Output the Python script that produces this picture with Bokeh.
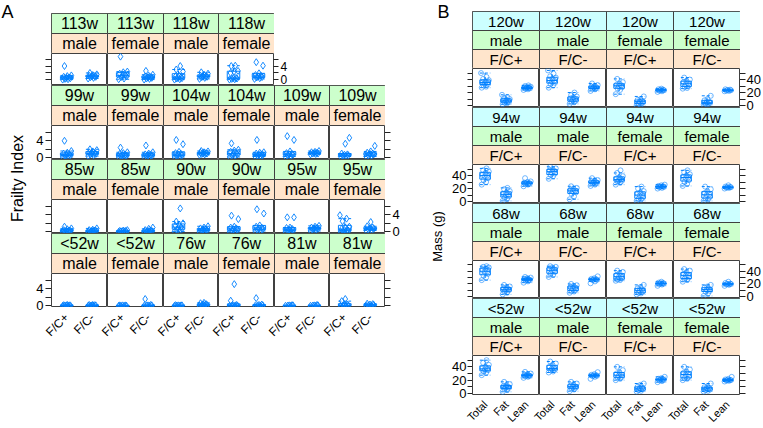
import math
import numpy as np
from bokeh.plotting import figure
from bokeh.layouts import row, column
from bokeh.models import Range1d, LinearAxis, FixedTicker, Label, Spacer
from bokeh.core.properties import value
from bokeh.embed import file_html
from bokeh.resources import INLINE

FONT = "Liberation Sans"
BLUE = "#0080ff"
EDGE = "#404040"
PEACH, GREEN, CYAN = "#ffe5cc", "#ccffcc", "#ccffff"

# ---------------- Panel A: Frailty Index (per cell: [F/C+ values], [F/C- values]) -------------
fi_groups = ["F/C+", "F/C-"]
fi_113w_male = [[0.1, 0.2, 0.3, 0.5, 0.6, 0.7, 0.9, 1.1, 1.3, 4.0], [0.4, 0.6, 0.8, 0.9, 1.0, 1.1, 1.2, 1.4, 1.6, 2.0]]
fi_113w_female = [[0.2, 0.4, 0.8, 1.0, 1.2, 1.4, 1.8, 2.2, 2.4, 6.7], [0.1, 0.3, 0.4, 0.6, 0.7, 0.8, 1.0, 1.2, 1.5, 2.6]]
fi_118w_male = [[0.1, 0.2, 0.4, 0.5, 0.6, 0.8, 1.0, 1.2, 2.4, 3.0, 4.0], [0.3, 0.6, 0.8, 0.9, 1.0, 1.1, 1.2, 1.5, 1.8, 2.2]]
fi_118w_female = [[0.1, 0.2, 0.3, 0.4, 0.5, 0.6, 2.0, 2.4, 2.6, 4.0, 4.1], [0.3, 0.5, 0.7, 0.8, 1.0, 1.2, 1.4, 1.9, 4.1, 5.1]]
fi_99w_male = [[0.2, 0.3, 0.5, 0.6, 0.7, 0.8, 1.0, 1.2, 1.6, 4.0], [0.4, 0.6, 0.8, 0.9, 1.0, 1.1, 1.3, 1.5, 1.8, 2.0]]
fi_99w_female = [[0.2, 0.3, 0.4, 0.5, 0.6, 0.7, 0.9, 1.1, 1.3, 2.4], [0.2, 0.3, 0.4, 0.5, 0.6, 0.7, 0.8, 1.0, 1.3, 2.9]]
fi_104w_male = [[0.2, 0.3, 0.5, 0.6, 0.8, 0.9, 1.1, 1.4, 3.2, 4.2], [0.7, 0.8, 0.9, 1.0, 1.0, 1.1, 1.2, 1.3, 1.5, 1.6]]
fi_104w_female = [[0.2, 0.4, 0.6, 0.8, 0.9, 1.1, 1.4, 1.7, 1.9, 3.4], [0.3, 0.4, 0.5, 0.6, 0.7, 0.8, 1.0, 1.2, 1.3, 4.2]]
fi_109w_male = [[0.3, 0.4, 0.6, 0.7, 0.8, 0.9, 1.1, 1.5, 4.2, 5.1], [0.8, 0.9, 1.0, 1.0, 1.1, 1.2, 1.3, 1.4, 1.6]]
fi_109w_female = [[0.3, 0.4, 0.5, 0.6, 0.7, 0.8, 1.0, 3.3, 4.7], [0.3, 0.5, 0.6, 0.8, 0.9, 1.0, 1.2, 1.5, 2.8]]
fi_85w_male = [[0.0, 0.1, 0.1, 0.2, 0.2, 0.3, 0.4, 0.6, 0.8, 1.2], [0.0, 0.1, 0.1, 0.2, 0.2, 0.3, 0.4, 0.5, 0.8]]
fi_85w_female = [[0.0, 0.0, 0.1, 0.1, 0.1, 0.2, 0.2, 0.3, 0.4], [0.0, 0.1, 0.1, 0.2, 0.2, 0.3, 0.4, 0.7, 1.0]]
fi_90w_male = [[0.1, 0.3, 0.5, 0.7, 0.9, 1.1, 1.4, 1.7, 2.0, 2.4, 5.5], [0.0, 0.2, 0.3, 0.4, 0.5, 0.6, 0.8, 1.0, 1.3]]
fi_90w_female = [[0.0, 0.2, 0.3, 0.5, 0.6, 0.8, 1.0, 1.2, 3.0, 3.8], [0.2, 0.3, 0.5, 0.6, 0.8, 1.0, 1.2, 1.5, 4.3, 5.3]]
fi_95w_male = [[0.0, 0.2, 0.3, 0.4, 0.5, 0.7, 0.9, 1.0, 3.4, 3.4], [0.2, 0.4, 0.6, 0.7, 0.8, 0.9, 1.0, 1.2, 1.4]]
fi_95w_female = [[0.0, 0.1, 0.2, 0.3, 0.4, 0.5, 0.7, 1.0, 1.2, 2.5, 3.1, 3.9], [0.3, 0.4, 0.6, 0.7, 0.8, 1.0, 1.3, 2.3]]
fi_lt52w_male = [[0.0, 0.0, 0.05, 0.1, 0.1, 0.1, 0.15, 0.2], [0.0, 0.0, 0.05, 0.1, 0.1, 0.15, 0.2, 0.2]]
fi_lt52w_female = [[0.0, 0.0, 0.0, 0.05, 0.1, 0.1, 0.1], [0.0, 0.0, 0.05, 0.1, 0.1, 0.2, 1.6]]
fi_76w_male = [[0.0, 0.0, 0.05, 0.1, 0.1, 0.1, 0.15], [0.0, 0.1, 0.1, 0.2, 0.3, 0.4, 0.6, 0.7]]
fi_76w_female = [[0.0, 0.0, 0.05, 0.1, 0.1, 0.2, 1.2, 5.1], [0.0, 0.0, 0.1, 0.1, 0.2, 0.3, 1.8]]
fi_81w_male = [[0.0, 0.0, 0.05, 0.1, 0.1, 0.15], [0.0, 0.0, 0.05, 0.1, 0.1, 0.2]]
fi_81w_female = [[0.0, 0.0, 0.1, 0.1, 0.2, 0.3, 1.1, 1.6], [0.0, 0.1, 0.1, 0.2, 0.3, 0.4, 0.5]]

fi_ticks = [0, 2, 4, 6]
fi_tick_labels = {0: "0", 2: "", 4: "4", 6: ""}

# ---------------- Panel B: Mass (g) (per cell: [Total], [Fat], [Lean]) -------------
mass_groups = ["Total", "Fat", "Lean"]
mass_120w_male_pos = [[27.5, 29, 31, 33, 34, 35, 36, 37, 39, 41, 44, 50], [2, 3.5, 4.5, 5.5, 6.5, 7, 7.5, 8.5, 10, 11.5, 13, 16.5], [24, 25, 26, 26.5, 27, 27.5, 28, 28.5, 29, 30, 31]]
mass_120w_male_neg = [[27.5, 31, 33, 35, 37, 38, 39, 41, 43, 45, 49, 54], [2.5, 5, 6, 7.5, 9, 10, 11, 12.5, 14, 16, 20], [22.5, 25, 26, 27, 28, 28.5, 29, 30, 31.5, 34]]
mass_120w_female_pos = [[17.5, 24, 26, 28, 30, 31, 32, 34, 36, 41], [0.5, 1.5, 3, 5, 6, 7, 8.5, 10, 14], [21, 22, 23, 23.5, 24, 24.5, 25, 26]]
mass_120w_female_neg = [[26, 27, 29, 31, 33, 34, 36, 38, 40, 43], [1, 2, 3, 4, 5, 6, 8, 10, 15], [22, 22.5, 23, 23.5, 24, 24.5, 25]]
mass_94w_male_pos = [[26, 30, 33, 36, 39, 40, 41, 44, 46, 48, 51], [1, 4, 6, 8, 10, 11, 12, 14, 16, 19, 21], [23.5, 26, 27, 27.5, 28, 28.5, 29, 30, 31, 36]]
mass_94w_male_neg = [[35, 39, 41, 43, 45, 47, 48, 50, 51, 53.5], [3.5, 8, 12, 14, 16, 17, 18, 20, 21, 23.5], [24, 26, 28, 28.5, 29, 30, 31, 32, 33, 36]]
mass_94w_female_pos = [[26, 29, 31, 32, 33, 34, 35, 37, 39, 44, 48], [1, 3, 4, 6, 9, 10, 12, 14, 16, 20, 23], [20, 21, 22, 22.5, 23, 23.5, 24, 25, 26]]
mass_94w_female_neg = [[24, 27, 30, 33, 36, 37, 38, 40, 42, 45, 48], [1, 3, 5, 7, 10, 11, 13, 16, 19, 23], [20, 21, 21.5, 22, 22, 22.5, 23, 25]]
mass_68w_male_pos = [[26, 30, 33, 36, 39, 40, 42, 44, 46, 47, 48], [3.5, 6, 8, 10, 11, 12, 13, 15, 16, 18.5], [22, 24, 25.5, 26, 27, 27, 28, 29, 30, 31]]
mass_68w_male_neg = [[31, 34, 36, 39, 41, 42, 44, 46, 47, 48], [6, 8, 9, 11, 13, 14, 15, 17, 18, 20], [21, 24, 26, 26.5, 27, 27.5, 28, 29, 32]]
mass_68w_female_pos = [[25, 26, 27, 29, 31, 32, 34, 37, 39, 41], [3.5, 5, 6, 8, 10, 11, 13, 15, 18.5], [17, 19, 20, 20.5, 21, 21.5, 22, 23.5]]
mass_68w_female_neg = [[23.5, 26, 28, 30, 33, 34, 36, 38.5, 41, 43.5], [1, 5, 8, 9, 11, 12, 14, 16, 18.5], [17, 18.5, 19.5, 20, 20, 20.5, 21.5, 23.5]]
mass_lt52w_male_pos = [[27.5, 31, 33, 35, 36, 37, 38, 40, 43, 46, 50], [2.5, 5, 7, 8.5, 9.5, 10, 11, 12.5, 14, 17.5], [23.5, 25, 26, 26.5, 27, 27, 28, 29, 30, 32.5]]
mass_lt52w_male_neg = [[31.5, 33, 35, 36, 37, 38, 40, 43, 45, 48], [3.5, 6, 7.5, 9, 10, 10.5, 12, 13.5, 15, 17.5], [22, 25, 26, 26.5, 27, 27.5, 28, 29, 32]]
mass_lt52w_female_pos = [[20, 22, 24, 25, 27, 28, 30, 32, 35, 40], [3, 4, 5, 6.5, 8, 9, 10, 13, 15], [17, 18.5, 20, 20.5, 21, 21.5, 22, 23, 25]]
mass_lt52w_female_neg = [[20, 22, 23, 25, 28, 29, 31, 33, 36, 40], [3, 4, 5, 6, 8, 8.5, 9.5, 11, 15], [18, 19, 19.5, 20, 20, 20.5, 21, 22, 25]]

mass_ticks = [0, 10, 20, 30, 40, 50]
mass_tick_labels = {0: "0", 10: "", 20: "20", 30: "", 40: "40", 50: ""}

# lattice layout tables built from the arrays above
A_rows = [
    (["113w", "113w", "118w", "118w"], ["male", "female", "male", "female"],
     [fi_113w_male, fi_113w_female, fi_118w_male, fi_118w_female]),
    (["99w", "99w", "104w", "104w", "109w", "109w"], ["male", "female"] * 3,
     [fi_99w_male, fi_99w_female, fi_104w_male, fi_104w_female, fi_109w_male, fi_109w_female]),
    (["85w", "85w", "90w", "90w", "95w", "95w"], ["male", "female"] * 3,
     [fi_85w_male, fi_85w_female, fi_90w_male, fi_90w_female, fi_95w_male, fi_95w_female]),
    (["<52w", "<52w", "76w", "76w", "81w", "81w"], ["male", "female"] * 3,
     [fi_lt52w_male, fi_lt52w_female, fi_76w_male, fi_76w_female, fi_81w_male, fi_81w_female]),
]
B_rows = [
    ("120w", [mass_120w_male_pos, mass_120w_male_neg, mass_120w_female_pos, mass_120w_female_neg]),
    ("94w", [mass_94w_male_pos, mass_94w_male_neg, mass_94w_female_pos, mass_94w_female_neg]),
    ("68w", [mass_68w_male_pos, mass_68w_male_neg, mass_68w_female_pos, mass_68w_female_neg]),
    ("<52w", [mass_lt52w_male_pos, mass_lt52w_male_neg, mass_lt52w_female_pos, mass_lt52w_female_neg]),
]
B_sex = ["male", "male", "female", "female"]
B_fc = ["F/C+", "F/C-", "F/C+", "F/C-"]

JIT = [-0.16, 0.05, -0.07, 0.14, -0.01, 0.10, -0.12, 0.02, 0.18, -0.09, 0.07, -0.19]


def base_fig(w, h, xr, yr, bl=0, br=0, bt=0, bb=0):
    p = figure(width=w, height=h, x_range=Range1d(*xr), y_range=Range1d(*yr),
               output_backend="svg", toolbar_location=None,
               x_axis_type=None, y_axis_type=None, min_border=0,
               min_border_left=bl, min_border_right=br,
               min_border_top=bt, min_border_bottom=bb)
    p.outline_line_color = None
    p.border_fill_color = "white"
    p.background_fill_color = "white"
    return p


def add_yaxis(p, side, ticks, labels, show_labels, standoff=2, tick_in=0, fsize="13px"):
    lab = labels if show_labels else {t: "" for t in ticks}
    ax = LinearAxis(ticker=FixedTicker(ticks=ticks), major_label_overrides=lab)
    ax.axis_line_color = None
    ax.major_tick_in = tick_in
    ax.major_tick_out = 5
    ax.minor_tick_in = 0
    ax.minor_tick_out = 0
    ax.major_tick_line_color = "#222222"
    ax.major_label_standoff = standoff
    ax.major_label_text_font = FONT
    ax.major_label_text_font_size = fsize
    ax.major_label_text_color = "black"
    p.add_layout(ax, side)


def yaxis_fig(side, width, top_b, frame_h, bot_b, yr, ticks, labels, show, standoff):
    bl = width - 1 if side == "left" else 0
    br = width - 1 if side == "right" else 0
    p = base_fig(width, top_b + frame_h + bot_b, (0, 1), yr, bl, br, top_b, bot_b)
    add_yaxis(p, side, ticks, labels, show, standoff, tick_in=1)
    return p


def xlabel_fig(widths, cats, height, bl, br, fsize="12px", standoff=2):
    total = sum(widths)
    p = base_fig(total + bl + br, height, (0, total), (0, 1), bl, br, 0, height - 1)
    edges = np.cumsum([0] + list(widths))
    n = len(cats)
    ticks, over = [], {}
    for j, w in enumerate(widths):
        for g, c in enumerate(cats):
            t = int(round(edges[j] + (g + 1 - 0.4) / (n + 0.2) * w))
            ticks.append(t)
            over[t] = c
    ax = LinearAxis(ticker=FixedTicker(ticks=ticks), major_label_overrides=over)
    ax.axis_line_color = None
    ax.major_tick_in = 0
    ax.major_tick_out = 0
    ax.minor_tick_in = 0
    ax.minor_tick_out = 0
    ax.major_label_standoff = standoff
    ax.major_label_orientation = math.pi / 4
    ax.major_label_text_font = FONT
    ax.major_label_text_font_size = fsize
    ax.major_label_text_color = "black"
    p.add_layout(ax, "below")
    return p


def draw_groups(p, groups, marker, msize, malpha):
    xs, ys = [], []
    for j, vals in enumerate(groups):
        x0 = j + 1
        v = np.array(vals, dtype=float)
        for i, y in enumerate(v):
            xs.append(x0 + JIT[i % len(JIT)])
            ys.append(y)
        q1, med, q3 = np.percentile(v, [25, 50, 75])
        iqr = q3 - q1
        lo = v[v >= q1 - 1.5 * iqr].min()
        hi = v[v <= q3 + 1.5 * iqr].max()
        hw = 0.25
        p.quad(left=[x0 - hw], right=[x0 + hw], bottom=[q1], top=[q3],
               fill_color=None, line_color=BLUE, line_width=1)
        p.segment(x0=[x0 - hw], y0=[med], x1=[x0 + hw], y1=[med], line_color=BLUE, line_width=1)
        p.segment(x0=[x0, x0], y0=[q3, q1], x1=[x0, x0], y1=[hi, lo],
                  line_color=BLUE, line_width=1, line_dash="3 2")
        p.segment(x0=[x0 - hw, x0 - hw], y0=[hi, lo], x1=[x0 + hw, x0 + hw], y1=[hi, lo],
                  line_color=BLUE, line_width=1, line_dash="3 2")
    p.scatter(xs, ys, marker=marker, size=msize, fill_color=None,
              line_color=BLUE, line_alpha=malpha, line_width=1)


def strip_fig(levels, widths, sh, fsize):
    total = sum(widths)
    p = base_fig(total, sh * len(levels), (0, total), (0, len(levels)))
    edges = np.cumsum([0] + list(widths)).astype(float)
    for lvl, (labels, color) in enumerate(levels):
        p.quad(left=edges[:-1], right=edges[1:], bottom=lvl, top=lvl + 1,
               fill_color=color, line_color=EDGE, line_width=1)
        p.text(x=(edges[:-1] + edges[1:]) / 2, y=[lvl + 0.5] * len(labels), text=labels,
               text_align="center", text_baseline="middle",
               text_font=value(FONT), text_font_size=fsize, text_color="black")
    p.outline_line_color = EDGE
    return p


# ---------------- build panel A ----------------
A_W = [56, 56, 55, 56, 55, 56]
A_PH = [32, 34, 34, 34]
A_YR = [(-1.6, 7.6), (-0.4, 7.6), (-0.4, 7.6), (-0.4, 7.6)]
A_LAX, A_RAX = 20, 16
cellsA = [Spacer(width=sum(A_W), height=13)]
for r, (ages, sexes, cells) in enumerate(A_rows):
    n = len(cells)
    widths = A_W[:n]
    cellsA.append(strip_fig([(sexes, PEACH), (ages, GREEN)], widths, 20, "16px"))
    figs = []
    for j, groups in enumerate(cells):
        br = A_RAX if (r == 0 and j == n - 1) else 0
        p = base_fig(widths[j] + br, A_PH[r], (0.4, 2.6), A_YR[r], 0, br)
        p.outline_line_color = EDGE
        if br:
            add_yaxis(p, "right", fi_ticks, fi_tick_labels, True, standoff=2, fsize="12px")
        draw_groups(p, groups, "diamond", 7, 0.9)
        figs.append(p)
    cellsA.append(row(*figs))
colA_cells = column(*cellsA)

leftA = [Spacer(width=A_LAX, height=33)]
for r in range(4):
    bot = 5 if r == 3 else 20
    leftA.append(yaxis_fig("left", A_LAX, 20, A_PH[r], bot, A_YR[r],
                           fi_ticks, fi_tick_labels, r % 2 == 1, 2))
colA_left = column(*leftA)

rightA = [Spacer(width=A_RAX, height=105)]
for r in range(1, 4):
    bot = 5 if r == 3 else 20
    rightA.append(yaxis_fig("right", A_RAX, 20, A_PH[r], bot, A_YR[r],
                            fi_ticks, fi_tick_labels, r % 2 == 0, 2))
colA_right = column(*rightA)

panelA = column(row(colA_left, colA_cells, colA_right),
                xlabel_fig(A_W, fi_groups, 40, A_LAX, A_RAX, "12px", 2))

# ---------------- build panel B ----------------
B_W = [67, 67, 67, 67]
B_PH = [39, 39, 38, 40]
B_TOP = 11
B_BOT = 4
B_YR = (-3, 57)
B_LAX, B_RAX = 22, 22
cellsB = [Spacer(width=sum(B_W), height=B_TOP)]
for r, (age, cells) in enumerate(B_rows):
    cellsB.append(strip_fig([(B_fc, PEACH), (B_sex, GREEN), ([age] * 4, CYAN)], B_W, 19, "15px"))
    figs = []
    for j, groups in enumerate(cells):
        p = base_fig(B_W[j], B_PH[r], (0.4, 3.6), B_YR)
        p.outline_line_color = EDGE
        draw_groups(p, groups, "circle", 5, 0.55)
        figs.append(p)
    cellsB.append(row(*figs))
colB_cells = column(*cellsB)

leftB = [Spacer(width=B_LAX, height=B_TOP + 38)]
rightB = [Spacer(width=B_RAX, height=B_TOP + 38)]
B_used = B_TOP + 38
for r in range(4):
    top = 19 if r == 0 else 38
    bot = B_BOT if r == 3 else 19
    B_used += top + B_PH[r] + bot
    leftB.append(yaxis_fig("left", B_LAX, top, B_PH[r], bot, B_YR,
                           mass_ticks, mass_tick_labels, r % 2 == 1, 1))
    rightB.append(yaxis_fig("right", B_RAX, top, B_PH[r], bot, B_YR,
                            mass_ticks, mass_tick_labels, r % 2 == 0, 1))
colB_left = column(*leftB)
colB_right = column(*rightB)

panelB = column(row(colB_left, colB_cells, colB_right),
                xlabel_fig(B_W, mass_groups, 428 - B_used, B_LAX, B_RAX, "11px", 3))

# ---------------- outer labels ----------------
H = 428
labA = base_fig(31, H, (0, 31), (0, H))
labA.add_layout(Label(x=1, y=H - 1, text="A", text_align="left", text_baseline="top",
                      text_font=FONT, text_font_size="18px", text_color="black"))
labA.add_layout(Label(x=17, y=H - 178, text="Frailty Index", angle=math.pi / 2,
                      text_align="center", text_baseline="middle",
                      text_font=FONT, text_font_size="16px", text_color="black"))

labB = base_fig(49, H, (0, 49), (0, H))
labB.add_layout(Label(x=48, y=H - 1, text="B", text_align="right", text_baseline="top",
                      text_font=FONT, text_font_size="18px", text_color="black"))
labB.add_layout(Label(x=36, y=H - 236, text="Mass (g)", angle=math.pi / 2,
                      text_align="center", text_baseline="middle",
                      text_font=FONT, text_font_size="13px", text_color="black"))

layout = row(labA, panelA, labB, panelB)

open("out.html", "w").write(file_html(layout, INLINE))
